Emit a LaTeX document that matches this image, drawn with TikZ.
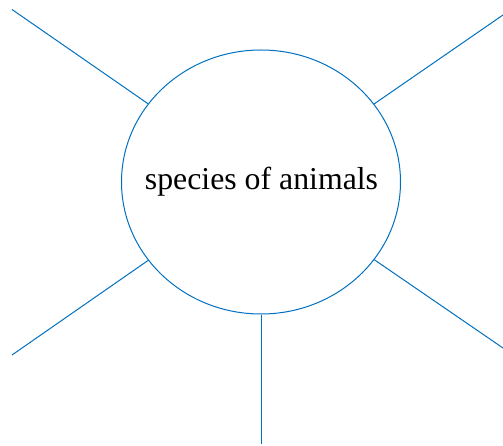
\documentclass[tikz,border=0pt]{standalone}
\usepackage{fontspec}
\setmainfont{Liberation Serif}
\usetikzlibrary{shapes.geometric}
\definecolor{lineblue}{RGB}{0,112,192}
\begin{document}
\begin{tikzpicture}[x=1pt,y=-1pt,
  conn/.style={draw=lineblue,line width=1pt},
  hub/.style={ellipse,draw=lineblue,line width=1pt,inner sep=0pt,minimum width=279pt,minimum height=264pt}]
\useasboundingbox (0,0) rectangle (503,446);
\node[hub] (c) at (261,182) {};
\node (lbl) at (261.5,182) {\fontsize{31.8}{36}\selectfont species of animals};
\coordinate (tl) at (12,9.5);
\coordinate (tr) at (503,15);
\coordinate (bl) at (12,355);
\coordinate (br) at (503,348);
\coordinate (b) at (261,444);
\draw[conn] (c) -- (tl);
\draw[conn] (c) -- (tr);
\draw[conn] (c) -- (bl);
\draw[conn] (c) -- (br);
\draw[conn] (c.south) -- (b);
\end{tikzpicture}
\end{document}
